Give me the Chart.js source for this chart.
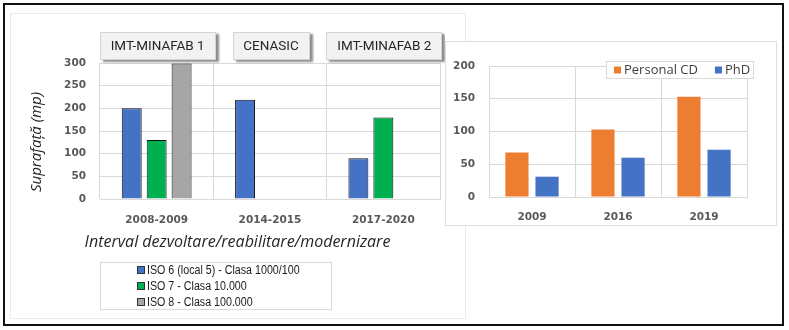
<!DOCTYPE html>
<html>
<head>
<meta charset="utf-8">
<script src="https://cdn.jsdelivr.net/npm/chart.js@4/dist/chart.umd.min.js"></script>
<style>
  html,body{margin:0;padding:0;background:#fff;}
  body{width:789px;height:330px;position:relative;overflow:hidden;}
  .abs{position:absolute;box-sizing:border-box;}
</style>
</head>
<body>
<div class="abs" style="left:3px;top:3px;width:781px;height:323px;border:2px solid #111;"></div>
<div class="abs" style="left:10px;top:13px;width:456px;height:306px;border:1px solid #ececec;"></div>
<div class="abs" style="left:10px;top:13px;width:435px;height:305px;"><canvas id="c1"></canvas></div>
<div class="abs" style="left:445px;top:41px;width:332px;height:185px;border:1px solid #dedede;background:#fff;"></div>
<div class="abs" style="left:446px;top:42px;width:330px;height:183px;"><canvas id="c2"></canvas></div>
<script>
// ---------- data: left chart ----------
const periods = ['2008-2009', '2014-2015', '2017-2020'];
const facilityLabels = ['IMT-MINAFAB 1', 'CENASIC', 'IMT-MINAFAB 2'];
const iso6Label = 'ISO 6 (local 5) - Clasa 1000/100';
const iso7Label = 'ISO 7 - Clasa 10.000';
const iso8Label = 'ISO 8 - Clasa 100.000';
const iso6Values = [200, 219, 90];
const iso7Values = [130, null, 180];
const iso8Values = [299, null, null];
const leftTicks = [0, 50, 100, 150, 200, 250, 300];
const leftYTitle = 'Suprafață (mp)';
const leftXTitle = 'Interval dezvoltare/reabilitare/modernizare';

// ---------- data: right chart ----------
const years = ['2009', '2016', '2019'];
const personalLabel = 'Personal CD';
const phdLabel = 'PhD';
const personalValues = [68, 103, 153];
const phdValues = [31, 60, 72];
const rightTicks = [0, 50, 100, 150, 200];

const tickFont = {family: 'DejaVu Sans', weight: 'bold', size: 10.5};
const tickColor = '#595959';
const gridColor = '#d9d9d9';

// ---------- plugins ----------
const facilityBoxes = {
  id: 'facilityBoxes',
  afterDraw(chart) {
    const ctx = chart.ctx, x = chart.scales.x;
    ctx.save();
    ctx.font = '13.5px Roboto';
    facilityLabels.forEach((t, i) => {
      const cx = x.getPixelForValue(i) + 1;
      const w = Math.round(ctx.measureText(t).width + 22);
      const h = 28, bx = Math.round(cx - w / 2), by = chart.chartArea.top - 31;
      ctx.shadowColor = 'rgba(0,0,0,0.45)';
      ctx.shadowBlur = 2; ctx.shadowOffsetX = 3; ctx.shadowOffsetY = 2;
      ctx.fillStyle = '#f2f2f2';
      ctx.fillRect(bx, by, w, h);
      ctx.shadowColor = 'transparent';
      ctx.strokeStyle = '#d4d4d4'; ctx.lineWidth = 1;
      ctx.strokeRect(bx + 0.5, by + 0.5, w - 1, h - 1);
      ctx.fillStyle = '#262626';
      ctx.textAlign = 'center'; ctx.textBaseline = 'middle';
      ctx.fillText(t, cx, by + h / 2 + 1);
    });
    ctx.restore();
  }
};

const leftTitles = {
  id: 'leftTitles',
  afterDraw(chart) {
    const ctx = chart.ctx, a = chart.chartArea;
    ctx.save();
    ctx.fillStyle = '#262626';
    ctx.font = 'italic 15px "Open Sans"';
    ctx.textAlign = 'center'; ctx.textBaseline = 'middle';
    ctx.translate(a.left - 63, a.top + 79);
    ctx.rotate(-Math.PI / 2);
    ctx.fillText(leftYTitle, 0, 0);
    ctx.restore();
    ctx.save();
    ctx.fillStyle = '#262626';
    ctx.font = 'italic 16px "Open Sans"';
    ctx.textAlign = 'center'; ctx.textBaseline = 'middle';
    ctx.fillText(leftXTitle, a.left + 137.5, a.bottom + 43);
    ctx.restore();
  }
};

const boxedLegendLeft = {
  id: 'boxedLegendLeft',
  afterDraw(chart) {
    const ctx = chart.ctx, a = chart.chartArea;
    const bx = a.left, by = a.bottom + 63, bw = 232, bh = 48;
    ctx.save();
    ctx.fillStyle = '#fff'; ctx.fillRect(bx, by, bw, bh);
    ctx.strokeStyle = '#d9d9d9'; ctx.lineWidth = 1;
    ctx.strokeRect(bx + 0.5, by + 0.5, bw - 1, bh - 1);
    ctx.font = '12px "Liberation Sans"';
    ctx.textBaseline = 'middle'; ctx.textAlign = 'left';
    chart.data.datasets.forEach((ds, i) => {
      const y = by + 8 + i * 16;
      ctx.fillStyle = ds.backgroundColor;
      ctx.fillRect(bx + 37.5, y - 3.5, 7, 7);
      ctx.strokeStyle = '#333'; ctx.strokeRect(bx + 37.5, y - 3.5, 7, 7);
      ctx.fillStyle = '#1a1a1a';
      ctx.save();
      ctx.translate(bx + 47, y + 0.5);
      ctx.scale(0.89, 1);
      ctx.fillText(ds.label, 0, 0);
      ctx.restore();
    });
    ctx.restore();
  }
};

const boxedLegendRight = {
  id: 'boxedLegendRight',
  afterDraw(chart) {
    const ctx = chart.ctx, a = chart.chartArea;
    const bw = 148, bh = 18, bx = a.right + 7 - bw, by = a.top - 5;
    ctx.save();
    ctx.fillStyle = '#fff'; ctx.fillRect(bx, by, bw, bh);
    ctx.strokeStyle = '#d9d9d9'; ctx.lineWidth = 1;
    ctx.strokeRect(bx + 0.5, by + 0.5, bw - 1, bh - 1);
    ctx.font = '13px "Open Sans"';
    ctx.textBaseline = 'middle'; ctx.textAlign = 'left';
    let x = bx + 8;
    chart.data.datasets.forEach((ds) => {
      ctx.fillStyle = ds.backgroundColor;
      ctx.fillRect(x, by + bh / 2 - 3.5, 7, 7);
      ctx.fillStyle = '#404040';
      ctx.fillText(ds.label, x + 10, by + bh / 2 + 0.5);
      x += 10 + ctx.measureText(ds.label).width + 17;
    });
    ctx.restore();
  }
};

// ---------- left chart ----------
new Chart(document.getElementById('c1'), {
  type: 'bar',
  data: {
    labels: periods,
    datasets: [
      {label: iso6Label, data: iso6Values, backgroundColor: '#4472C4'},
      {label: iso7Label, data: iso7Values, backgroundColor: '#00B050'},
      {label: iso8Label, data: iso8Values, backgroundColor: '#A6A6A6'}
    ].map(d => Object.assign(d, {borderColor: '#111', borderWidth: 1, borderSkipped: 'bottom',
                                  barPercentage: 0.8, categoryPercentage: 0.66}))
  },
  options: {
    responsive: true, maintainAspectRatio: false, animation: false,
    layout: {padding: {left: 0, right: 5, top: 50, bottom: 0}},
    plugins: {legend: {display: false}, tooltip: {enabled: false}},
    scales: {
      x: {
        grid: {color: gridColor, drawTicks: false, offset: true},
        border: {color: gridColor},
        ticks: {color: tickColor, font: tickFont, padding: 15},
        afterFit(s) { s.height = 119; }
      },
      y: {
        min: 0, max: 300,
        afterBuildTicks(s) { s.ticks = leftTicks.map(v => ({value: v})); },
        grid: {color: gridColor, drawTicks: false},
        border: {display: false},
        ticks: {color: tickColor, font: tickFont, padding: 14},
        afterFit(s) { s.width = 90; }
      }
    }
  },
  plugins: [facilityBoxes, leftTitles, boxedLegendLeft]
});

// ---------- right chart ----------
new Chart(document.getElementById('c2'), {
  type: 'bar',
  data: {
    labels: years,
    datasets: [
      {label: personalLabel, data: personalValues, backgroundColor: '#ED7D31'},
      {label: phdLabel, data: phdValues, backgroundColor: '#4472C4'}
    ].map(d => Object.assign(d, {barPercentage: 0.77, categoryPercentage: 0.70}))
  },
  options: {
    responsive: true, maintainAspectRatio: false, animation: false,
    layout: {padding: {left: 0, right: 29, top: 24, bottom: 0}},
    plugins: {legend: {display: false}, tooltip: {enabled: false}},
    scales: {
      x: {
        grid: {color: gridColor, drawTicks: false, offset: true},
        border: {color: gridColor},
        ticks: {color: tickColor, font: tickFont, padding: 14},
        afterFit(s) { s.height = 28; }
      },
      y: {
        min: 0, max: 200,
        afterBuildTicks(s) { s.ticks = rightTicks.map(v => ({value: v})); },
        grid: {color: gridColor, drawTicks: false},
        border: {display: false},
        ticks: {color: tickColor, font: tickFont, padding: 14},
        afterFit(s) { s.width = 43; }
      }
    }
  },
  plugins: [boxedLegendRight]
});
</script>
</body>
</html>
